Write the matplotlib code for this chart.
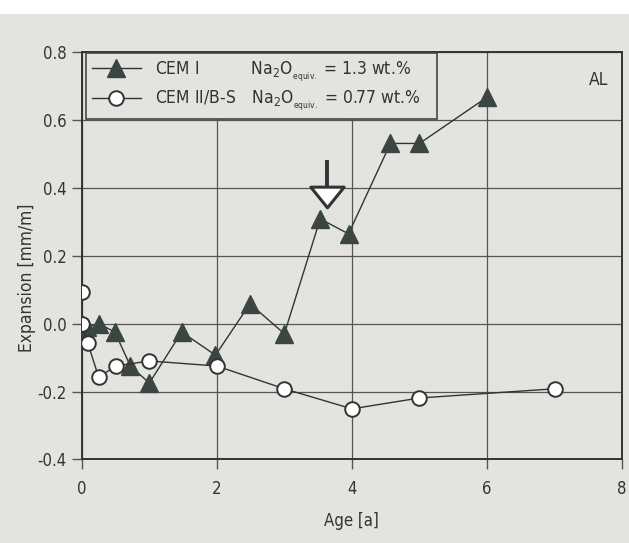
import matplotlib
matplotlib.use("Agg")
import matplotlib.pyplot as plt
from matplotlib.lines import Line2D
from matplotlib.path import Path

plt.rcParams['font.family'] = ['DejaVu Sans']
plt.rcParams['font.stretch'] = 'condensed'
plt.rcParams['mathtext.fontset'] = 'custom'
plt.rcParams['mathtext.rm'] = 'DejaVu Sans:stretch=condensed'
plt.rcParams['mathtext.it'] = 'DejaVu Sans:stretch=condensed:style=oblique'

# CEM I, Na2O equiv. = 1.3 wt.%
age_cem1 = [0.0, 0.08, 0.25, 0.49, 0.72, 1.0, 1.48, 1.98, 2.49, 3.0,
            3.53, 3.95, 4.57, 5.0, 6.0]
exp_cem1 = [0.0, -0.01, 0.0, -0.025, -0.125, -0.175, -0.025, -0.093, 0.058,
            -0.03, 0.308, 0.264, 0.53, 0.53, 0.666]

# CEM II/B-S, Na2O equiv. = 0.77 wt.%
age_cem2 = [0.0, 0.0, 0.09, 0.25, 0.5, 1.0, 2.0, 3.0, 4.0, 5.0, 7.0]
exp_cem2 = [0.093, 0.0, -0.058, -0.158, -0.125, -0.11, -0.125, -0.192,
            -0.251, -0.219, -0.192]

cements = ['CEM I', 'CEM II/B-S']
na2o = ['1.3', '0.77']

# onset of expansion marker
arrow_x = 3.63
arrow_y = 0.371

bg = '#e3e4df'
ink = '#333333'
fill = '#3b4541'

fig = plt.figure(figsize=(6.29, 5.43), dpi=100, facecolor=bg)
fig.patches.append(plt.Rectangle((0, 0.975), 1, 0.03, transform=fig.transFigure,
                                 facecolor='white', edgecolor='none'))
ax = fig.add_axes([0.130, 0.1538, 0.859, 0.751])
ax.set_facecolor(bg)

ax.plot(age_cem1, exp_cem1, color=ink, lw=1.0, marker='^', ms=13,
        mfc=fill, mec=fill, zorder=3)
ax.plot(age_cem2, exp_cem2, color=ink, lw=1.0, marker='o', ms=10.5,
        mfc='white', mec=ink, mew=1.4, zorder=4)

# open arrow pointing at the jump in expansion
flat_tri = Path([(-1, 0.62), (1, 0.62), (0, -0.62), (-1, 0.62)],
                [Path.MOVETO, Path.LINETO, Path.LINETO, Path.CLOSEPOLY])
ax.plot([arrow_x, arrow_x], [arrow_y + 0.03, arrow_y + 0.11], color=ink,
        lw=2.8, zorder=5, solid_capstyle='butt')
ax.plot([arrow_x], [arrow_y], marker=flat_tri, ms=24, mfc='white', mec=ink,
        mew=2.2, zorder=5)

ax.set_xlim(0, 8)
ax.set_ylim(-0.4, 0.8)
ax.set_xticks([0, 2, 4, 6, 8])
ax.set_yticks([-0.4, -0.2, 0.0, 0.2, 0.4, 0.6, 0.8])
ax.set_yticklabels(['-0.4', '-0.2', '0.0', '0.2', '0.4', '0.6', '0.8'])
ax.grid(True, color='#555555', lw=0.9)
ax.set_axisbelow(True)
for s in ax.spines.values():
    s.set_color(ink)
    s.set_linewidth(1.4)
ax.tick_params(direction='out', length=7, width=1.0, color='#555555',
               labelsize=12, labelcolor=ink)
ax.tick_params(axis='x', pad=8)
ax.tick_params(axis='y', pad=4)

ax.set_xlabel('Age [a]', fontsize=12, color=ink, labelpad=10)
ax.set_ylabel('Expansion [mm/m]', fontsize=12.5, color=ink)
ax.yaxis.set_label_coords(-0.085, 0.445)

ax.text(0.975, 0.93, 'AL', transform=ax.transAxes, ha='right', va='center',
        fontsize=12.5, color=ink)

# legend rows: cement name, then alkali content in a second column
gaps = [3.42, 1.1]
tails = ['\u2007' * 2, '\u2007' * 2]
labels = [name + r'$\hspace{%.2f}$' % g + r'Na$_2$O$_{_{\mathregular{equiv.}}}$ = '
          + val + ' wt.%' + t for name, g, val, t in zip(cements, gaps, na2o, tails)]
h1 = Line2D([], [], color=ink, lw=1.0, marker='^', ms=13, mfc=fill, mec=fill)
h2 = Line2D([], [], color=ink, lw=1.0, marker='o', ms=10.5,
            mfc='white', mec=ink, mew=1.4)
leg = ax.legend([h1, h2], labels, loc='upper left',
                bbox_to_anchor=(0.008, 0.996), borderaxespad=0,
                fontsize=12.5, handlelength=2.8, handletextpad=0.8,
                labelspacing=0.3, borderpad=0.35, fancybox=False,
                framealpha=1.0, facecolor=bg, edgecolor='#444444',
                labelcolor=ink)
leg.get_frame().set_linewidth(1.2)

fig.savefig('out.png', dpi=100, facecolor=fig.get_facecolor())
